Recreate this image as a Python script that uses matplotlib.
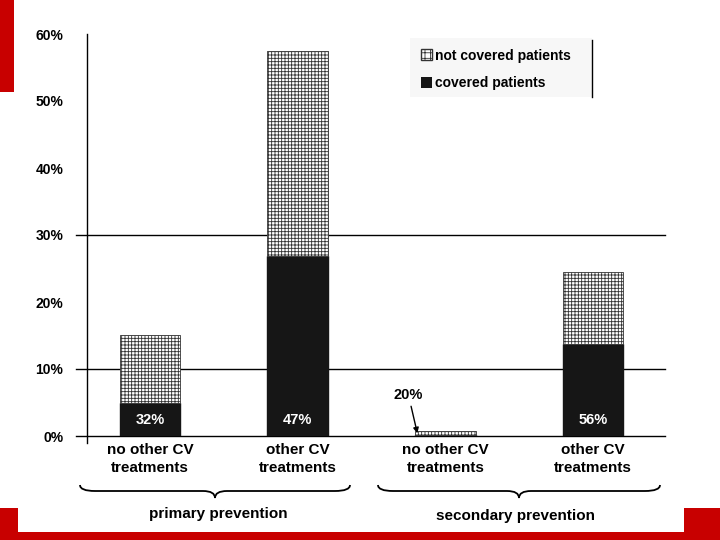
import matplotlib
matplotlib.use("Agg")
from matplotlib import pyplot as plt
from matplotlib.patches import Rectangle, PathPatch, Patch
from matplotlib.path import Path
import numpy as np

# data (percent of patients)
categories = ["no other CV\ntreatments", "other CV\ntreatments",
              "no other CV\ntreatments", "other CV\ntreatments"]
covered = [4.9, 26.8, 0.16, 13.7]
not_covered = [10.2, 30.7, 0.64, 10.8]
share_labels = ["32%", "47%", "20%", "56%"]
groups = ["primary prevention", "secondary prevention"]
yticks = [0, 10, 20, 30, 40, 50, 60]
gridlines = [0, 10, 30]

plt.rcParams['font.family'] = ['Liberation Sans', 'DejaVu Sans']
plt.rcParams['hatch.linewidth'] = 0.6

W, H = 720, 540
fig = plt.figure(figsize=(7.2, 5.4), dpi=100)

def fx(x):
    return x / W

def fy(y):
    return 1 - y / H

# red slide decoration
fig.patches.append(Rectangle((0, fy(92)), fx(14), 92 / H, transform=fig.transFigure,
                             facecolor='#c80000', edgecolor='none', zorder=0))
fig.patches.append(Rectangle((0, 0), 1, 32 / H, transform=fig.transFigure,
                             facecolor='#c80000', edgecolor='none', zorder=0))
fig.patches.append(Rectangle((fx(18), fy(532)), fx(666), 24 / H, transform=fig.transFigure,
                             facecolor='white', edgecolor='none', zorder=1))

# legend background box
fig.patches.append(Rectangle((fx(410), fy(97)), fx(182), 59 / H, transform=fig.transFigure,
                             facecolor='#f7f7f7', edgecolor='none', zorder=1))
fig.add_artist(plt.Line2D([fx(592), fx(592)], [fy(40), fy(97)], color='black', lw=1,
                          transform=fig.transFigure))

ax = fig.add_axes([fx(87), fy(436), fx(578), 402 / H])
ax.patch.set_alpha(0)
ax.set_zorder(2)
x = np.arange(len(categories))
width = 0.41

for v in gridlines:
    ax.plot([-0.019, 1], [v, v], color='black', lw=1, transform=ax.get_yaxis_transform(),
            clip_on=False, zorder=1)
ax.plot([0, 0], [-0.018, 1], color='black', lw=1, transform=ax.transAxes,
        clip_on=False, zorder=1)

ax.bar(x, covered, width, color='#161616', edgecolor='#161616', zorder=3)
ax.bar(x, not_covered, width, bottom=covered, color='white', edgecolor='#333333',
       hatch='+++++', linewidth=0.6, zorder=3)

for i, lab in enumerate(share_labels):
    if i == 2:
        ax.annotate(lab, xy=(x[i] - 0.19, 0.4), xytext=(x[i] - 0.25, 6.1),
                    ha='center', va='center', fontsize=10.5, fontweight='bold',
                    arrowprops=dict(arrowstyle='-|>', color='black', lw=1,
                                    mutation_scale=8, shrinkA=1, shrinkB=0))
    else:
        ax.text(x[i], 2.4, lab, ha='center', va='center', color='white',
                fontsize=10.5, fontweight='bold', zorder=4)

ax.set_xlim(-0.427, 3.487)
ax.set_ylim(0, 60)
ax.set_yticks(yticks)
ax.set_yticklabels([f"{t}%" for t in yticks], fontsize=10, fontweight='bold')
ax.tick_params(axis='y', length=0, pad=17)
ax.set_xticks(x)
ax.set_xticklabels(categories, fontsize=11, fontweight='bold', linespacing=1.4)
ax.tick_params(axis='x', length=0, pad=5)
for s in ax.spines.values():
    s.set_visible(False)

# legend
leg = ax.legend(handles=[Patch(facecolor='white', edgecolor='#333333', hatch='+++',
                               label='not covered patients'),
                         Patch(facecolor='#161616', label='covered patients')],
                loc='upper left', bbox_to_anchor=(fx(415), fy(43)),
                bbox_transform=fig.transFigure, frameon=False,
                prop={'size': 10, 'weight': 'bold'}, handlelength=0.8,
                handleheight=0.8, handletextpad=0.25, labelspacing=1.0,
                borderpad=0.4, borderaxespad=0)

# curly braces under the groups
def brace(x0, x1, y_end=485, y_flat=491, y_tip=498):
    xm = (x0 + x1) / 2
    pts = [(x0, y_end), (x0, y_flat), (x0 + 15, y_flat),
           (xm - 12, y_flat),
           (xm, y_flat), (xm, y_tip),
           (xm, y_flat), (xm + 12, y_flat),
           (x1 - 15, y_flat),
           (x1, y_flat), (x1, y_end)]
    codes = [Path.MOVETO, Path.CURVE3, Path.CURVE3, Path.LINETO,
             Path.CURVE3, Path.CURVE3, Path.CURVE3, Path.CURVE3,
             Path.LINETO, Path.CURVE3, Path.CURVE3]
    p = Path([(fx(a), fy(b)) for a, b in pts], codes)
    fig.patches.append(PathPatch(p, transform=fig.transFigure, facecolor='none',
                                 edgecolor='black', lw=1.3, zorder=2))

brace(80, 350)
brace(378, 660)

fig.text(fx(218), fy(514), groups[0], ha='center', va='center', fontsize=11,
         fontweight='bold', zorder=3)
fig.text(fx(515), fy(516), groups[1], ha='center', va='center', fontsize=11,
         fontweight='bold', zorder=3)

fig.savefig("out.png", dpi=100)
